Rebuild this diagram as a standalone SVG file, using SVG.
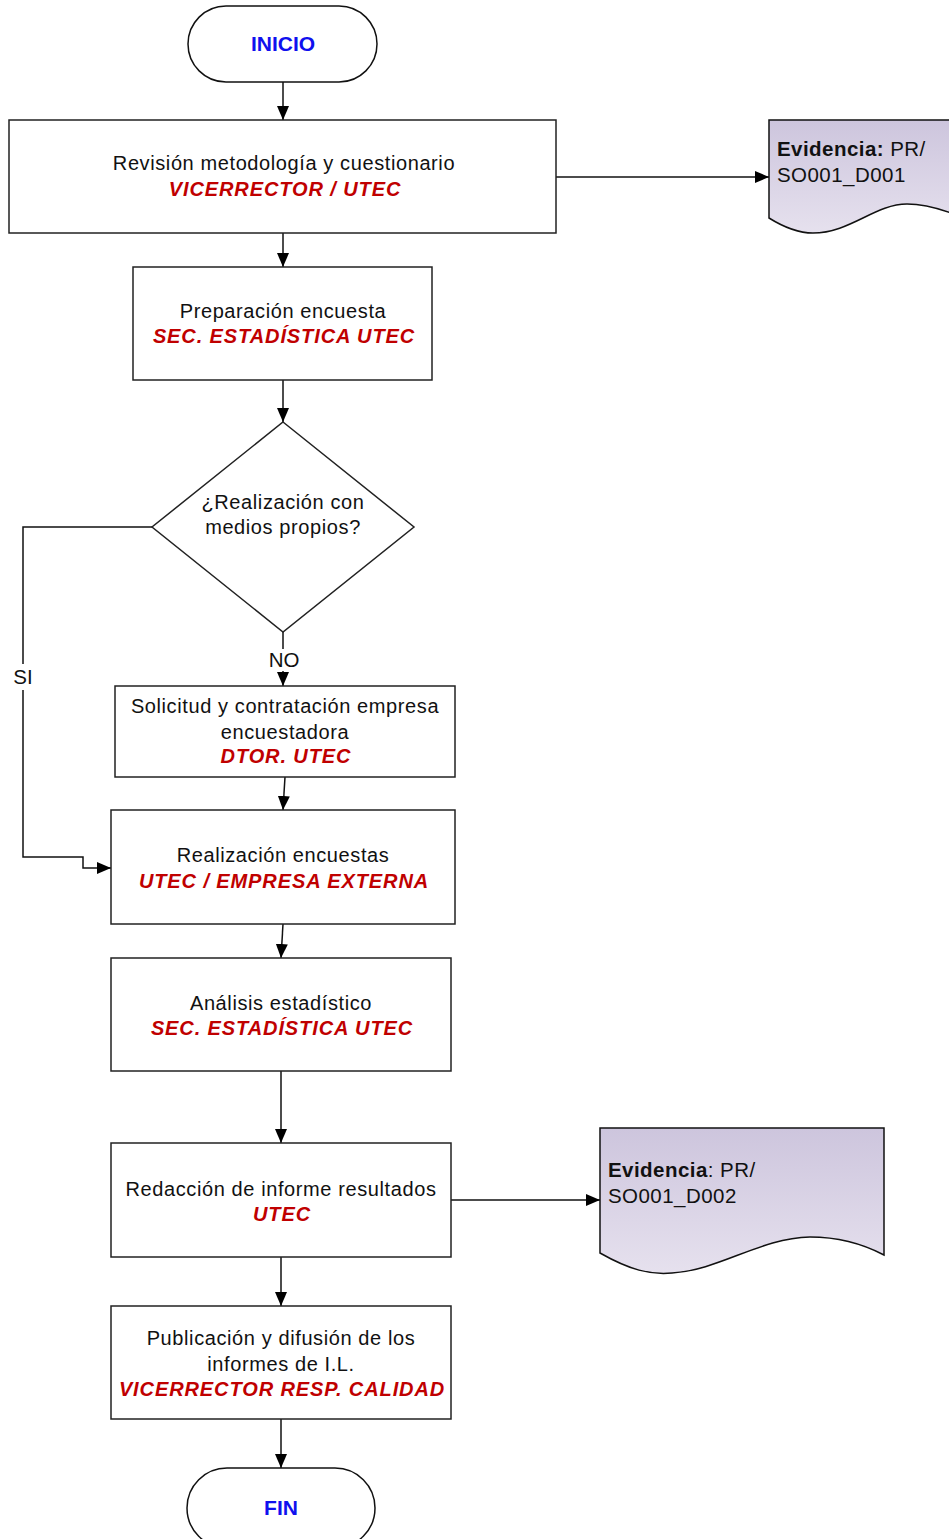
<svg xmlns="http://www.w3.org/2000/svg" width="949" height="1539" viewBox="0 0 949 1539">
<style>
.box{fill:#fff;stroke:#222;stroke-width:1.5}
.term{fill:#fff;stroke:#111;stroke-width:1.5}
.doc{fill:url(#docg);stroke:#111;stroke-width:1.5}
.t{font-family:"Liberation Sans",Arial,sans-serif;font-size:20px;fill:#111;text-anchor:middle;letter-spacing:0.6px}
.r{font-family:"Liberation Sans",Arial,sans-serif;font-size:20px;fill:#c00000;font-weight:bold;font-style:italic;text-anchor:middle;letter-spacing:0.9px}
.b{font-family:"Liberation Sans",Arial,sans-serif;font-size:21px;fill:#1010ee;font-weight:bold;text-anchor:middle}
.d{font-family:"Liberation Sans",Arial,sans-serif;font-size:20.5px;fill:#111;letter-spacing:0.45px}
.l{font-family:"Liberation Sans",Arial,sans-serif;font-size:20.5px;fill:#111;text-anchor:middle}
.c{fill:none;stroke:#111;stroke-width:1.5}
</style>
<defs>
<linearGradient id="docg" x1="0" y1="0" x2="0" y2="1">
<stop offset="0" stop-color="#cdc5dd"/>
<stop offset="1" stop-color="#e6e1ee"/>
</linearGradient>
<marker id="ah" viewBox="0 0 14 12" refX="14" refY="6" markerWidth="14" markerHeight="12" markerUnits="userSpaceOnUse" orient="auto">
<path d="M0,0 L14,6 L0,12 Z" fill="#000"/>
</marker>
</defs>

<g id="connectors">
<line class="c" x1="283" y1="82" x2="283" y2="120" marker-end="url(#ah)"/>
<line class="c" x1="556" y1="177" x2="769" y2="177" marker-end="url(#ah)"/>
<line class="c" x1="283" y1="233" x2="283" y2="267" marker-end="url(#ah)"/>
<line class="c" x1="283" y1="380" x2="283" y2="422" marker-end="url(#ah)"/>
<line class="c" x1="283" y1="632" x2="283" y2="649"/>
<line class="c" x1="283" y1="671" x2="283" y2="686" marker-end="url(#ah)"/>
<text class="l" x="284" y="667">NO</text>
<polyline class="c" points="152,527 23,527 23,664"/>
<polyline class="c" points="23,690 23,857 83,857 83,868 111,868" marker-end="url(#ah)"/>
<text class="l" x="23" y="684">SI</text>
<line class="c" x1="285" y1="777" x2="283" y2="810" marker-end="url(#ah)"/>
<line class="c" x1="283" y1="924" x2="281" y2="958" marker-end="url(#ah)"/>
<line class="c" x1="281" y1="1071" x2="281" y2="1143" marker-end="url(#ah)"/>
<line class="c" x1="451" y1="1200" x2="600" y2="1200" marker-end="url(#ah)"/>
<line class="c" x1="281" y1="1257" x2="281" y2="1306" marker-end="url(#ah)"/>
<line class="c" x1="281" y1="1419" x2="281" y2="1468" marker-end="url(#ah)"/>
</g>

<g id="inicio">
<rect class="term" x="188" y="6" width="189" height="76" rx="38" ry="38"/>
<text class="b" x="283" y="51">INICIO</text>
</g>

<g id="revision">
<rect class="box" x="9" y="120" width="547" height="113"/>
<text class="t" x="284" y="170">Revisión metodología y cuestionario</text>
<text class="r" x="285" y="196">VICERRECTOR / UTEC</text>
</g>

<g id="evidencia1">
<path class="doc" d="M769,120 H962 V217 C942,209 925,204 907,204 C875,204 850,233 813,233 C800,233 785,228 769,218 Z"/>
<text class="d" x="777" y="156"><tspan font-weight="bold">Evidencia:</tspan> PR/</text>
<text class="d" x="777" y="182">SO001_D001</text>
</g>

<g id="preparacion">
<rect class="box" x="133" y="267" width="299" height="113"/>
<text class="t" x="283" y="318">Preparación encuesta</text>
<text class="r" x="284" y="343">SEC. ESTADÍSTICA UTEC</text>
</g>

<g id="decision">
<polygon class="box" points="283,422 414,527 283,632 152,527"/>
<text class="t" x="283" y="509">¿Realización con</text>
<text class="t" x="283" y="534">medios propios?</text>
</g>

<g id="solicitud">
<rect class="box" x="115" y="686" width="340" height="91"/>
<text class="t" x="285" y="713">Solicitud y contratación empresa</text>
<text class="t" x="285" y="739">encuestadora</text>
<text class="r" x="286" y="763">DTOR. UTEC</text>
</g>

<g id="realizacion">
<rect class="box" x="111" y="810" width="344" height="114"/>
<text class="t" x="283" y="862">Realización encuestas</text>
<text class="r" x="284" y="888">UTEC / EMPRESA EXTERNA</text>
</g>

<g id="analisis">
<rect class="box" x="111" y="958" width="340" height="113"/>
<text class="t" x="281" y="1010">Análisis estadístico</text>
<text class="r" x="282" y="1035">SEC. ESTADÍSTICA UTEC</text>
</g>

<g id="redaccion">
<rect class="box" x="111" y="1143" width="340" height="114"/>
<text class="t" x="281" y="1196">Redacción de informe resultados</text>
<text class="r" x="282" y="1221">UTEC</text>
</g>

<g id="evidencia2">
<path class="doc" d="M600,1128 H884 V1255 C865,1245 840,1237 810,1237 C760,1238 720,1270 672,1273 C650,1275 630,1270 600,1253 Z"/>
<text class="d" x="608" y="1177"><tspan font-weight="bold">Evidencia</tspan>: PR/</text>
<text class="d" x="608" y="1203">SO001_D002</text>
</g>

<g id="publicacion">
<rect class="box" x="111" y="1306" width="340" height="113"/>
<text class="t" x="281" y="1345">Publicación y difusión de los</text>
<text class="t" x="281" y="1371">informes de I.L.</text>
<text class="r" x="282" y="1396">VICERRECTOR RESP. CALIDAD</text>
</g>

<g id="fin">
<rect class="term" x="187" y="1468" width="188" height="80" rx="40" ry="40"/>
<text class="b" x="281" y="1515">FIN</text>
</g>
</svg>
